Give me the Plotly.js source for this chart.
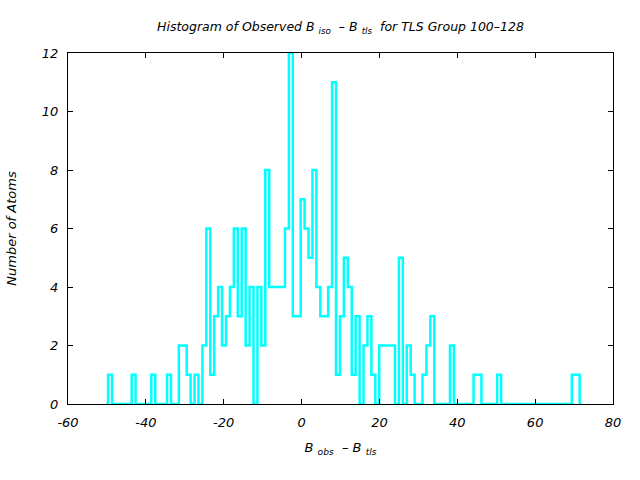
<!DOCTYPE html>
<html>
<head>
<meta charset="utf-8">
<script src="https://cdn.plot.ly/plotly-3.0.1.min.js"></script>
<style>html,body{margin:0;padding:0;background:#fff;}#chart{width:640px;height:480px;}</style>
</head>
<body>
<div id="chart"></div>
<script>
// Histogram of B_obs - B_tls: 120 equal-width bins
const binStart = -49.7;    // left edge of the first bin
const binWidth = 1.0095;   // width of each bin
const counts = [
  1, 0, 0, 0, 0, 0, 1, 0, 0, 0,
  0, 1, 0, 0, 0, 1, 0, 0, 2, 2,
  1, 0, 1, 0, 2, 6, 1, 3, 4, 2,
  3, 4, 6, 3, 6, 2, 4, 0, 4, 2,
  8, 4, 4, 4, 4, 6, 12, 3, 3, 7,
  6, 5, 8, 4, 3, 3, 4, 11, 1, 3,
  5, 4, 1, 3, 0, 2, 3, 1, 0, 2,
  2, 2, 2, 0, 5, 0, 2, 1, 0, 0,
  1, 2, 3, 0, 0, 0, 0, 2, 0, 0,
  0, 0, 0, 1, 1, 0, 0, 0, 0, 1,
  0, 0, 0, 0, 0, 0, 0, 0, 0, 0,
  0, 0, 0, 0, 0, 0, 0, 0, 1, 1
];
const xTicks = [-60, -40, -20, 0, 20, 40, 60, 80];
const yTicks = [0, 2, 4, 6, 8, 10, 12];

// pad with an empty bin on each side so the outer edges drop to zero
const yVals = [0].concat(counts, [0]);

const FONT = 'DejaVu Sans, sans-serif';

const trace = {
  type: 'scatter',
  mode: 'lines',
  x0: binStart + binWidth / 2 - binWidth,
  dx: binWidth,
  y: yVals,
  line: {shape: 'hvh', color: '#00FFFF', width: 2.5},
  hoverinfo: 'skip',
  showlegend: false
};

const axisCommon = {
  showline: true, linecolor: '#000', linewidth: 1, mirror: 'ticks',
  ticks: 'inside', ticklen: 5, tickcolor: '#000', tickwidth: 1,
  showgrid: false, zeroline: false,
  tickfont: {family: FONT, size: 13, color: '#000', style: 'italic'}
};

const layout = {
  width: 640, height: 480,
  paper_bgcolor: '#fff', plot_bgcolor: '#fff',
  margin: {l: 68, r: 27, t: 53, b: 76},
  title: {
    text: '<i>Histogram of Observed B <sub>iso</sub>  – B <sub>tls</sub>  for TLS Group 100–128</i>',
    font: {family: FONT, size: 12.5, color: '#000'},
    xref: 'paper', x: 0.5, xanchor: 'center',
    yref: 'container', y: 0.944, yanchor: 'middle'
  },
  xaxis: Object.assign({}, axisCommon, {
    range: [-60, 80], tickvals: xTicks, ticktext: xTicks.map(String),
    ticklabelstandoff: 6,
    title: {text: '<i>B <sub>obs</sub>  – B <sub>tls</sub></i>', font: {family: FONT, size: 13, color: '#000'}, standoff: 14}
  }),
  yaxis: Object.assign({}, axisCommon, {
    range: [0, 12], tickvals: yTicks, ticktext: yTicks.map(String),
    ticklabelstandoff: 6,
    title: {text: '<i>Number of Atoms</i>', font: {family: FONT, size: 13, color: '#000'}, standoff: 22}
  })
};

Plotly.newPlot('chart', [trace], layout, {staticPlot: true, displayModeBar: false});
</script>
</body>
</html>
